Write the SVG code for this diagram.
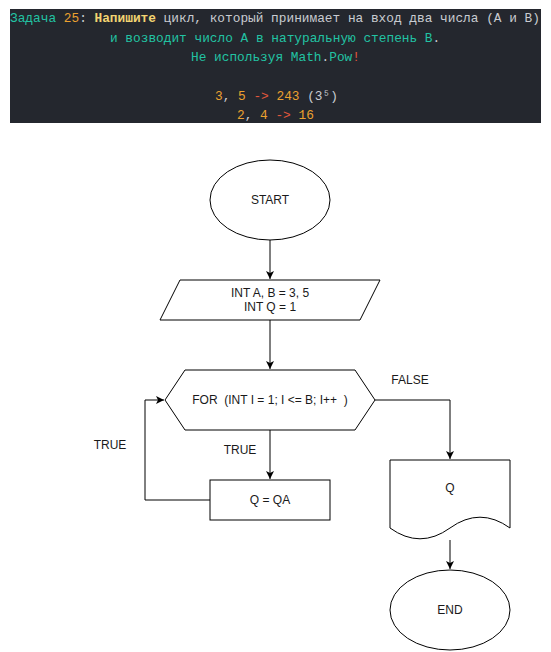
<svg xmlns="http://www.w3.org/2000/svg" width="551" height="652" viewBox="0 0 551 652">
<style>
.code{font-family:"Liberation Mono","DejaVu Sans Mono",monospace;font-size:12.8px;fill:#c9ccd1}
.t{fill:#22c3a3}.o{fill:#eba12f}.y{fill:#f2d472;font-weight:bold}.r{fill:#e2573c}.g{fill:#c9ccd1}
.shape{fill:#fff;stroke:#000;stroke-width:1}
.lbl{font-family:"Liberation Sans",Arial,sans-serif;font-size:12px;fill:#1a1a1a;text-anchor:middle}
.edge{fill:none;stroke:#000;stroke-width:1}
</style>
<defs>
<marker id="arr" markerWidth="10" markerHeight="10" refX="8" refY="4" orient="auto" markerUnits="userSpaceOnUse">
<path d="M0,0 L8,4 L0,8 L2,4 z" fill="#000"/>
</marker>
</defs>
<rect width="551" height="652" fill="#fff"/>
<g id="header">
<rect x="10" y="9" width="531" height="114" fill="#24272e"/>
<text class="code" x="10" y="22" xml:space="preserve"><tspan class="t">Задача</tspan> <tspan class="o">25</tspan>: <tspan class="y">Напишите</tspan> цикл, который принимает на вход два числа (A и B)</text>
<text class="code" x="110" y="41.5" xml:space="preserve"><tspan class="t">и возводит число A в натуральную степень B</tspan>.</text>
<text class="code" x="191" y="61" xml:space="preserve"><tspan class="t">Не используя Math</tspan>.<tspan class="t">Pow</tspan><tspan class="r">!</tspan></text>
<text class="code" x="215" y="100" xml:space="preserve"><tspan class="o">3</tspan>, <tspan class="o">5</tspan> <tspan class="r">-&gt;</tspan> <tspan class="o">243</tspan> (3⁵)</text>
<text class="code" x="237" y="119" xml:space="preserve"><tspan class="o">2</tspan>, <tspan class="o">4</tspan> <tspan class="r">-&gt;</tspan> <tspan class="o">16</tspan></text>
</g>
<g id="connectors">
<line class="edge" x1="270" y1="240" x2="270" y2="279" marker-end="url(#arr)"/>
<line class="edge" x1="270" y1="320" x2="270" y2="369" marker-end="url(#arr)"/>
<line class="edge" x1="270" y1="430" x2="270" y2="479" marker-end="url(#arr)"/>
<polyline class="edge" points="210,500 145,500 145,400 164,400" marker-end="url(#arr)"/>
<polyline class="edge" points="375,400 450,400 450,459" marker-end="url(#arr)"/>
<line class="edge" x1="450" y1="540" x2="450" y2="569" marker-end="url(#arr)"/>
<text class="lbl" x="110" y="449">TRUE</text>
<text class="lbl" x="240" y="454">TRUE</text>
<text class="lbl" x="410" y="384">FALSE</text>
</g>
<g id="start">
<ellipse class="shape" cx="270" cy="200" rx="60" ry="40"/>
<text class="lbl" x="270" y="204">START</text>
</g>
<g id="init">
<polygon class="shape" points="180,280 380,280 360,320 160,320"/>
<text class="lbl" x="270" y="297">INT A, B = 3, 5</text>
<text class="lbl" x="270" y="311">INT Q = 1</text>
</g>
<g id="loop">
<polygon class="shape" points="165,400 185,370 355,370 375,400 355,430 185,430"/>
<text class="lbl" x="270" y="404" xml:space="preserve">FOR  (INT I = 1; I &lt;= B; I++  )</text>
</g>
<g id="body">
<rect class="shape" x="210" y="480" width="120" height="40"/>
<text class="lbl" x="270" y="504">Q = QA</text>
</g>
<g id="output">
<path class="shape" d="M390,460 H510 V528 Q480,506.4 450,528 Q420,549.6 390,528 Z"/>
<text class="lbl" x="450" y="492">Q</text>
</g>
<g id="end">
<ellipse class="shape" cx="450" cy="610" rx="60" ry="40"/>
<text class="lbl" x="450" y="614">END</text>
</g>
</svg>
